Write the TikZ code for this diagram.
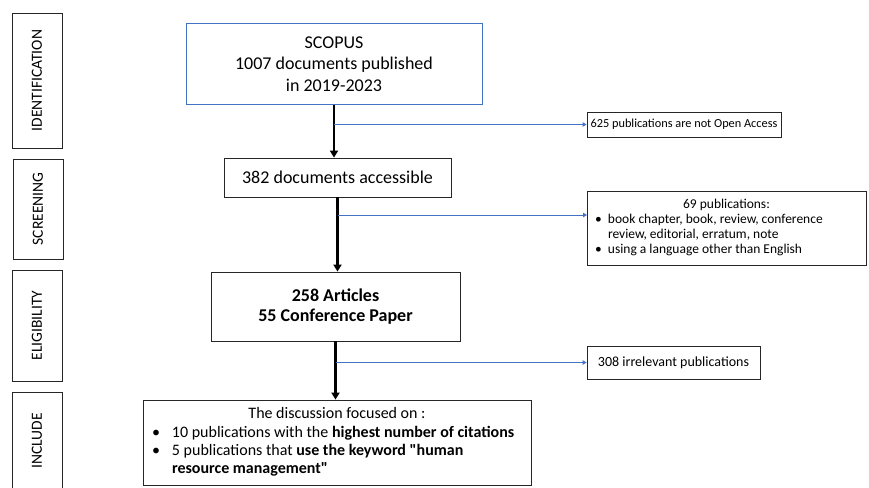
\documentclass[tikz,border=0pt]{standalone}
\usepackage{fontspec}
\setmainfont{Carlito}
\usetikzlibrary{arrows.meta}

\definecolor{flowblue}{RGB}{68,114,196}

\tikzset{
  box/.style={draw=black!85,line width=.8pt,inner sep=0pt,align=center},
  stage/.style={box,rotate=90,minimum height=50pt,font=\fontsize{15.5}{18}\selectfont},
  mainarrow/.style={line width=2.2pt,-{Triangle[width=8pt,length=7pt]}},
  sidearrow/.style={flowblue,line width=.9pt,-{Triangle[width=4.5pt,length=4pt]}}
}

\begin{document}
\begin{tikzpicture}[x=1pt,y=-1pt]
  \useasboundingbox (0,0) rectangle (869,487);
  % phases
  \node[stage,minimum width=135pt] (ident) at (37,80.5) {IDENTIFICATION};
  \node[stage,minimum width=100pt] (screen) at (38,209) {SCREENING};
  \node[stage,minimum width=111pt] (eligib) at (37,325.5) {ELIGIBILITY};
  \node[stage,minimum width=98pt] (incl) at (37,441) {INCLUDE};
  % main flow
  \node[box,draw=flowblue,line width=1pt,minimum width=296pt,minimum height=80pt,
    font=\fontsize{18}{21.5}\selectfont] (scopus) at (334,64)
    {SCOPUS\\1007 documents published\\in 2019-2023};
  \node[box,minimum width=227pt,minimum height=39pt,font=\fontsize{18}{21.5}\selectfont]
    (access) at (337.5,177.5) {382 documents accessible};
  \node[box,minimum width=249pt,minimum height=69pt,font=\bfseries\fontsize{18}{20}\selectfont]
    (articles) at (335.5,306.5) {258 Articles\\55 Conference Paper};
  \node[box,minimum width=388pt,minimum height=85pt,font=\fontsize{16}{18.3}\selectfont]
    (final) at (337,442.5)
    {\begin{tabular}{@{}p{20pt}@{}p{350pt}@{}}
       \multicolumn{2}{c}{The discussion focused on :}\\
       \textbullet & 10 publications with the \textbf{highest number of citations}\\
       \textbullet & 5 publications that \textbf{use the keyword \textquotedbl human}\\
                   & \textbf{resource management\textquotedbl}
     \end{tabular}};
  % excluded
  \node[box,minimum width=194pt,minimum height=25pt,font=\fontsize{12.3}{15}\selectfont]
    (notopen) at (684,124.5) {625 publications are not Open Access};
  \node[box,minimum width=279pt,minimum height=74pt,font=\fontsize{13.5}{15.2}\selectfont]
    (types) at (726.5,228)
    {\begin{tabular}{@{}p{13pt}@{}p{250pt}@{}}
       \multicolumn{2}{c}{69 publications:}\\
       \textbullet & book chapter, book, review, conference\\
                   & review, editorial, erratum, note\\
       \textbullet & using a language other than English
     \end{tabular}};
  \node[box,minimum width=173pt,minimum height=33pt,font=\fontsize{14}{16}\selectfont]
    (irrel) at (673.5,362.5) {308 irrelevant publications};
  \coordinate (typesin) at (587,215);

  \draw[mainarrow] (scopus.south) -- (scopus.south |- access.north);
  \draw[mainarrow] (access.south) -- (access.south |- articles.north);
  \draw[mainarrow] (articles.south) -- (articles.south |- final.north);
  \draw[sidearrow] (scopus.south |- notopen.west) -- (notopen.west);
  \draw[sidearrow] (access.south |- typesin) -- (typesin);
  \draw[sidearrow] (articles.south |- irrel.west) -- (irrel.west);
\end{tikzpicture}
\end{document}
